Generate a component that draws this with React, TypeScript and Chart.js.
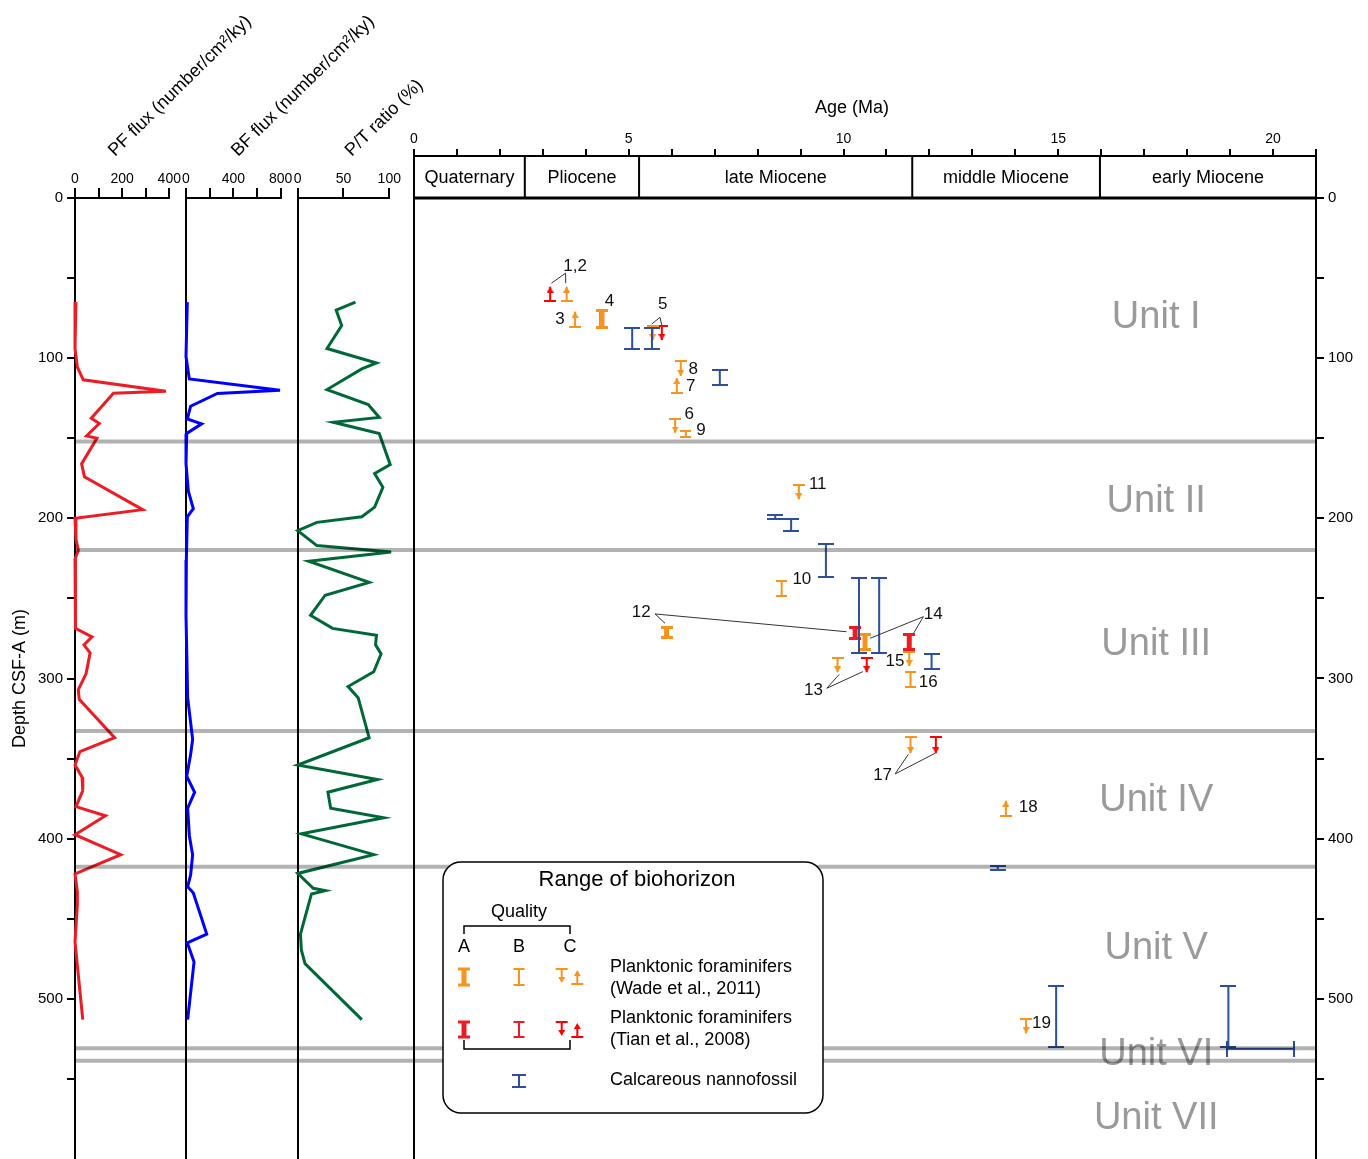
import React, { useEffect, useRef } from "react";
import { Chart, registerables } from "chart.js";

Chart.register(...registerables);

const W = 1368;
const H = 1159;
const FONT = "'Liberation Sans', Arial, Helvetica, sans-serif";

// ---------------- data ----------------
const depthTicks = [0, 50, 100, 150, 200, 250, 300, 350, 400, 450, 500, 550];
const depthLabels = [0, 100, 200, 300, 400, 500];

// PF flux (number/cm2/ky) vs depth (m)
const pfDepth = [65, 94, 105.6, 113.5, 120.6, 121.9, 137.5, 140.8, 148.5, 150, 166, 174, 194.6, 200, 213, 220, 225.6, 261, 268.7, 274, 279, 284, 297, 307, 313, 337, 345.6, 354, 361.6, 370, 380, 385.7, 397.5, 410, 422, 433, 441, 464.5, 513];
const pfFlux = [4, 0, 10, 35, 386, 163, 69, 103, 49, 93, 28, 40, 287, 0, 4, 14, 0, 0, 4, 72, 38, 64, 47, 14, 18, 168, 21, 0, 30, 33, 4, 129, 0, 194, 0, 10, 10, 0, 33];

// BF flux (number/cm2/ky) vs depth (m)
const bfDepth = [65, 99, 113, 120, 122, 130, 138, 141, 147, 166, 183, 194, 199, 226, 261, 312, 338, 347.5, 361, 371, 381, 398, 410, 422.7, 430, 434, 459.6, 465, 477, 513];
const bfFlux = [11, 0, 28, 794, 265, 39, 11, 132, 6, 0, 20, 62, 11, 3, 0, 14, 56, 39, 6, 73, 14, 28, 56, 39, 14, 62, 175, 11, 68, 14];

// P/T ratio (%) vs depth (m)
const ptDepth = [65, 70, 79.6, 94, 103, 106.7, 119.6, 129, 137, 140, 147, 166.5, 172, 180.6, 193, 199, 202.5, 207.7, 217, 221, 226.8, 240, 248, 260.6, 268.7, 273, 279, 284.7, 295.8, 305, 312, 337, 354, 363, 371, 381, 387, 397, 410, 421.7, 431, 432.5, 434.5, 459.6, 469.5, 478, 513];
const ptRatio = [63, 42, 48, 32, 86, 70, 32, 77, 89, 39, 89, 101, 84, 93, 84, 70, 21, 0, 21, 102, 12, 78, 30, 14, 38, 86, 85, 91, 83, 55, 66, 78, 0, 87, 33, 36, 94, 4, 83, 0, 17, 30, 15, 3, 4, 8, 70];

// Age axis
const ageTicks = [0, 1, 2, 3, 4, 5, 6, 7, 8, 9, 10, 11, 12, 13, 14, 15, 16, 17, 18, 19, 20, 21];
const ageLabels = [0, 5, 10, 15, 20];
const epochNames = ["Quaternary", "Pliocene", "late Miocene", "middle Miocene", "early Miocene"];
const epochBounds = [0, 2.58, 5.24, 11.6, 15.97, 21];

// Lithologic units
const unitNames = ["Unit I", "Unit II", "Unit III", "Unit IV", "Unit V", "Unit VI", "Unit VII"];
const unitLabelDepth = [74.6, 189.5, 278.8, 376.2, 468.6, 534.7, 574.7];
const unitLabelAge = 17.28;
const unitBounds = [152, 219.8, 332.8, 417.5, 530.8, 538.6];

// Planktonic foraminifers (Wade et al., 2011): [age, top depth, bottom depth]
const wadeRangeA: number[][] = [[4.37, 70.4, 80.7], [5.88, 268.3, 274.5], [10.5, 272.8, 281.6]];
const wadeRangeB: number[][] = [[6.33, 145.3, 149.1], [8.56, 238.9, 248.5], [11.56, 295.7, 305.5]];
// arrows: [age, cap depth, tip depth]
const wadeArrows: number[][] = [
  [3.555, 64.1, 55.4], [3.75, 80.4, 71.0], [5.56, 79.9, 88.7], [6.21, 101.6, 111.1],
  [6.12, 121.6, 112.4], [6.08, 138, 146.5], [8.96, 179.2, 188.1], [11.53, 283.3, 292.2],
  [9.86, 287, 296.1], [11.56, 336.7, 346.7], [13.78, 385.8, 376.3], [14.25, 512.8, 521.5],
];
// Planktonic foraminifers (Tian et al., 2008)
const tianRangeA: number[][] = [[4.37, 70.4, 80.7], [10.27, 268.3, 274.9], [11.53, 272.8, 281.6]];
const tianArrows: number[][] = [[3.17, 64.1, 55.4], [5.77, 79.9, 88.7], [10.54, 287, 296.1], [12.15, 336.7, 346.7]];
// Calcareous nannofossils: [age, top, bottom]
const nannoRange: number[][] = [
  [5.08, 81.4, 94.3], [5.54, 81.4, 94.3], [7.12, 107.4, 116.6], [8.41, 198.1, 200.2],
  [8.78, 200.6, 207.7], [9.59, 216, 236.4], [10.36, 237.1, 283.9], [10.83, 237.1, 283.9],
  [12.05, 284.7, 294.1], [13.59, 416.9, 419.5], [14.95, 491.8, 529.9], [18.96, 491.8, 529.9],
];
// age range at one depth: [depth, age from, age to]
const nannoAgeRange: number[][] = [[531.1, 18.92, 20.49]];

// Biohorizon numbers: [text, age, depth]
const horizonLabels: [string, number, number][] = [
  ["1,2", 3.75, 42.4], ["3", 3.4, 75.7], ["4", 4.55, 64.7], ["5", 5.79, 66.2],
  ["8", 6.5, 106.9], ["7", 6.44, 117.8], ["6", 6.41, 134.8], ["9", 6.68, 144.8],
  ["11", 9.4, 178.5], ["10", 9.03, 238.0], ["12", 5.29, 258.4], ["14", 12.09, 259.7],
  ["15", 11.2, 289.0], ["16", 11.97, 302.6], ["13", 9.3, 307.1], ["17", 10.91, 360.2],
  ["18", 14.3, 380.3], ["19", 14.61, 515.2],
];
// leader lines: [age1, depth1, age2, depth2]
const leaderLines: number[][] = [
  [3.531, 46.9, 3.198, 53.2], [3.531, 46.9, 3.531, 53.2],
  [5.728, 74.5, 5.534, 78.7], [5.728, 74.5, 5.767, 79.3],
  [5.611, 259.7, 5.844, 265.5], [5.611, 259.7, 10.07, 270.8],
  [11.86, 261.4, 10.62, 274.9], [11.86, 261.4, 11.63, 271.8],
  [9.61, 306.1, 9.9, 297.4], [9.61, 306.1, 10.45, 295.7],
  [11.2, 359.6, 11.51, 347.3], [11.2, 359.6, 12.13, 346.7],
];

// ---------------- styles / layout ----------------
const ORANGE = "#f7941d";
const RED = "#ed1c24";
const RED_ARROW = "#ff0000";
const BLUE = "#2d4f9e";
const PANEL_LEFT = 75;
const MAIN_LEFT = 414;
const MAIN_RIGHT = 1316;
const PLOT_TOP = 198;
const BAND_TOP = 156;
const DEPTH_MAX = 600;
const BAND_MIN = -((PLOT_TOP - BAND_TOP) / ((H - PLOT_TOP) / DEPTH_MAX));

function noPad(s: any) {
  s.paddingTop = 0;
  s.paddingBottom = 0;
  s.paddingLeft = 0;
  s.paddingRight = 0;
}

function capImage(color: string, w: number, t: number) {
  const c = document.createElement("canvas");
  c.width = w;
  c.height = t;
  const g = c.getContext("2d")!;
  g.fillStyle = color;
  g.fillRect(0, 0, w, t);
  return c;
}
function headImage(color: string, w: number, h: number) {
  const c = document.createElement("canvas");
  c.width = w;
  c.height = h * 2;
  const g = c.getContext("2d")!;
  g.fillStyle = color;
  g.beginPath();
  g.moveTo(0, 0);
  g.lineTo(w, 0);
  g.lineTo(w / 2, h);
  g.closePath();
  g.fill();
  return c;
}

function glyphRange(ctx: CanvasRenderingContext2D, cx: number, y1: number, y2: number, color: string, stemW: number, capW: number, capT: number) {
  ctx.fillStyle = color;
  ctx.fillRect(cx - stemW / 2, y1, stemW, y2 - y1);
  ctx.fillRect(cx - capW / 2, y1 - capT / 2, capW, capT);
  ctx.fillRect(cx - capW / 2, y2 - capT / 2, capW, capT);
}
function glyphArrow(ctx: CanvasRenderingContext2D, cx: number, capY: number, tipY: number, color: string) {
  const dir = tipY > capY ? 1 : -1;
  const hh = 6, hw = 7;
  const baseY = tipY - dir * hh;
  ctx.fillStyle = color;
  ctx.fillRect(cx - 1, Math.min(capY, baseY), 2, Math.abs(baseY - capY));
  ctx.fillRect(cx - 6, capY - 1, 12, 2);
  ctx.beginPath();
  ctx.moveTo(cx - hw / 2, baseY);
  ctx.lineTo(cx + hw / 2, baseY);
  ctx.lineTo(cx, tipY);
  ctx.closePath();
  ctx.fill();
}

function drawLegend(ctx: CanvasRenderingContext2D, bx: number, by: number) {
  ctx.save();
  const w = 380, h = 251, r = 18;
  ctx.beginPath();
  ctx.moveTo(bx + r, by);
  ctx.arcTo(bx + w, by, bx + w, by + h, r);
  ctx.arcTo(bx + w, by + h, bx, by + h, r);
  ctx.arcTo(bx, by + h, bx, by, r);
  ctx.arcTo(bx, by, bx + w, by, r);
  ctx.closePath();
  ctx.fillStyle = "#fff";
  ctx.fill();
  ctx.lineWidth = 1.5;
  ctx.strokeStyle = "#000";
  ctx.stroke();

  ctx.fillStyle = "#000";
  ctx.textBaseline = "middle";
  ctx.textAlign = "center";
  ctx.font = `22px ${FONT}`;
  ctx.fillText("Range of biohorizon", bx + 194, by + 18);
  ctx.font = `18px ${FONT}`;
  ctx.fillText("Quality", bx + 76, by + 50);
  ctx.fillText("A", bx + 21, by + 85);
  ctx.fillText("B", bx + 76, by + 85);
  ctx.fillText("C", bx + 127, by + 85);

  ctx.lineWidth = 1.5;
  ctx.beginPath();
  ctx.moveTo(bx + 21, by + 72);
  ctx.lineTo(bx + 21, by + 64);
  ctx.lineTo(bx + 127, by + 64);
  ctx.lineTo(bx + 127, by + 72);
  ctx.moveTo(bx + 21, by + 178);
  ctx.lineTo(bx + 21, by + 187);
  ctx.lineTo(bx + 127, by + 187);
  ctx.lineTo(bx + 127, by + 178);
  ctx.stroke();

  glyphRange(ctx, bx + 21, by + 107, by + 123, ORANGE, 5, 12, 3);
  glyphRange(ctx, bx + 76, by + 107, by + 123, ORANGE, 2, 11, 2);
  glyphArrow(ctx, bx + 118.7, by + 107, by + 121, ORANGE);
  glyphArrow(ctx, bx + 134.3, by + 122, by + 108, ORANGE);

  glyphRange(ctx, bx + 21, by + 160, by + 175, RED, 5, 12, 3);
  glyphRange(ctx, bx + 76, by + 160, by + 175, RED, 2, 11, 2);
  glyphArrow(ctx, bx + 118.7, by + 160, by + 174, RED_ARROW);
  glyphArrow(ctx, bx + 134.3, by + 175, by + 161, RED_ARROW);

  glyphRange(ctx, bx + 76, by + 213, by + 225, BLUE, 2, 14, 2);

  ctx.fillStyle = "#000";
  ctx.textAlign = "left";
  ctx.font = `18px ${FONT}`;
  ctx.fillText("Planktonic foraminifers", bx + 167, by + 105);
  ctx.fillText("(Wade et al., 2011)", bx + 167, by + 127);
  ctx.fillText("Planktonic foraminifers", bx + 167, by + 156);
  ctx.fillText("(Tian et al., 2008)", bx + 167, by + 178);
  ctx.fillText("Calcareous nannofossil", bx + 167, by + 218);
  ctx.restore();
}

const mainPlugin = {
  id: "mainDecor",
  beforeDatasetsDraw(chart: any) {
    const { ctx, scales } = chart;
    const x = scales.x, y = scales.y;
    ctx.save();
    ctx.font = `38px ${FONT}`;
    ctx.fillStyle = "#9a9a9a";
    ctx.textAlign = "center";
    ctx.textBaseline = "middle";
    unitNames.forEach((n, i) => ctx.fillText(n, x.getPixelForValue(unitLabelAge), y.getPixelForValue(unitLabelDepth[i])));
    ctx.restore();
  },
  afterDatasetsDraw(chart: any) {
    const { ctx, chartArea, scales } = chart;
    const x = scales.x, y = scales.y;
    ctx.save();
    // epoch band
    const y0 = y.getPixelForValue(0);
    ctx.strokeStyle = "#000";
    ctx.lineWidth = 2;
    ctx.beginPath();
    for (let i = 1; i < epochBounds.length - 1; i++) {
      const px = x.getPixelForValue(epochBounds[i]);
      ctx.moveTo(px, chartArea.top);
      ctx.lineTo(px, y0);
    }
    ctx.stroke();
    ctx.lineWidth = 3;
    ctx.beginPath();
    ctx.moveTo(chartArea.left - 1, y0);
    ctx.lineTo(chartArea.right + 1, y0);
    ctx.stroke();
    ctx.fillStyle = "#000";
    ctx.font = `18px ${FONT}`;
    ctx.textAlign = "center";
    ctx.textBaseline = "middle";
    for (let i = 0; i < epochNames.length; i++) {
      const a = x.getPixelForValue(epochBounds[i]);
      const b = x.getPixelForValue(epochBounds[i + 1]);
      ctx.fillText(epochNames[i], (a + b) / 2, (chartArea.top + y0) / 2 + 1);
    }
    // axis title
    ctx.fillText("Age (Ma)", (chartArea.left + chartArea.right) / 2 - 13, 108);

    // leader lines
    ctx.strokeStyle = "#333";
    ctx.lineWidth = 1;
    ctx.beginPath();
    for (const [a1, d1, a2, d2] of leaderLines) {
      ctx.moveTo(x.getPixelForValue(a1), y.getPixelForValue(d1));
      ctx.lineTo(x.getPixelForValue(a2), y.getPixelForValue(d2));
    }
    ctx.stroke();
    // numbers
    ctx.fillStyle = "#111";
    ctx.font = `17px ${FONT}`;
    for (const [t, a, d] of horizonLabels) ctx.fillText(t, x.getPixelForValue(a), y.getPixelForValue(d));

    // unit boundaries (semi-transparent, over everything)
    ctx.strokeStyle = "rgba(0,0,0,0.3)";
    ctx.lineWidth = 4;
    for (const d of unitBounds) {
      const py = y.getPixelForValue(d);
      ctx.beginPath();
      ctx.moveTo(PANEL_LEFT, py);
      ctx.lineTo(chartArea.right, py);
      ctx.stroke();
    }
    ctx.restore();
    drawLegend(ctx, chartArea.left + 29, chartArea.bottom - 297);
  },
};

function titlePlugin(title: string, dx: number) {
  return {
    id: "panelTitle",
    afterDraw(chart: any) {
      const { ctx, chartArea } = chart;
      ctx.save();
      ctx.translate(chartArea.left + dx, 157);
      ctx.rotate((-44.5 * Math.PI) / 180);
      ctx.font = `18px ${FONT}`;
      ctx.fillStyle = "#000";
      ctx.textAlign = "left";
      ctx.textBaseline = "alphabetic";
      ctx.fillText(title, 0, 0);
      ctx.restore();
    },
  };
}

type PanelSpec = {
  left: number;
  right: number;
  xMax: number;
  xTicks: number[];
  xLabels: number[];
  depths: number[];
  values: number[];
  color: string;
  title: string;
  titleDx: number;
  depthAxis: boolean;
};

function panelChart(canvas: HTMLCanvasElement, p: PanelSpec) {
  return new Chart(canvas, {
    type: "scatter",
    data: {
      datasets: [
        {
          data: p.depths.map((d, i) => ({ x: p.values[i], y: d })),
          showLine: true,
          borderColor: p.color,
          borderWidth: 3,
          pointRadius: 0,
          borderJoinStyle: "miter",
          clip: false as any,
          tension: 0,
        } as any,
      ],
    },
    options: {
      animation: false,
      responsive: false,
      devicePixelRatio: 1,
      events: [],
      layout: { autoPadding: false, padding: { left: p.depthAxis ? 0 : p.left, right: W - p.right, top: 0, bottom: 0 } },
      plugins: { legend: { display: false }, tooltip: { enabled: false } },
      scales: {
        x: {
          type: "linear",
          position: "top",
          min: 0,
          max: p.xMax,
          afterBuildTicks: (s: any) => {
            s.ticks = p.xTicks.map((v) => ({ value: v }));
          },
          afterFit: (s: any) => {
            s.height = PLOT_TOP;
            noPad(s);
          },
          ticks: {
            autoSkip: false,
            maxRotation: 0,
            padding: 0,
            color: "#000",
            font: { size: 14, family: FONT },
            callback: (v: any) => (p.xLabels.includes(v) ? String(v) : ""),
          },
          grid: { drawOnChartArea: false, tickLength: 10, color: "#000", lineWidth: 2 },
          border: { color: "#000", width: 2 },
        },
        y: {
          type: "linear",
          position: "left",
          reverse: true,
          min: 0,
          max: DEPTH_MAX,
          afterBuildTicks: (s: any) => {
            s.ticks = depthTicks.map((v) => ({ value: v }));
          },
          afterFit: (s: any) => {
            s.width = p.depthAxis ? p.left : 0;
            noPad(s);
          },
          ticks: {
            display: p.depthAxis,
            autoSkip: false,
            padding: 4,
            color: "#000",
            font: { size: 15, family: FONT },
            callback: (v: any) => (depthLabels.includes(v) ? String(v) : ""),
          },
          grid: { drawOnChartArea: false, drawTicks: p.depthAxis, tickLength: 8, color: "#000", lineWidth: 2 },
          border: { color: "#000", width: 2 },
          title: {
            display: p.depthAxis,
            text: "Depth CSF-A (m)",
            color: "#000",
            font: { size: 18, family: FONT },
            padding: { top: 9, bottom: 0 },
          },
        },
      },
    } as any,
    plugins: [titlePlugin(p.title, p.titleDx)],
  });
}

function buildMarkerDatasets() {
  const ds: any[] = [];
  const capA = { o: capImage(ORANGE, 12, 3), r: capImage(RED, 12, 3) };
  const capB = capImage(ORANGE, 11, 2);
  const capArrow = { o: capImage(ORANGE, 12, 2), r: capImage(RED_ARROW, 12, 2) };
  const head = { o: headImage(ORANGE, 7, 6), r: headImage(RED_ARROW, 7, 6) };
  const capN = capImage(BLUE, 16, 2);
  const common = { showLine: true, pointRadius: 3, clip: false, borderCapStyle: "butt", tension: 0 };

  const range = (a: number, t: number, b: number, color: string, sw: number, cap: HTMLCanvasElement) =>
    ds.push({ ...common, data: [{ x: a, y: t }, { x: a, y: b }], borderColor: color, borderWidth: sw, pointStyle: cap, pointRotation: 0 });
  const arrow = (a: number, c: number, t: number, color: string, cap: HTMLCanvasElement, hd: HTMLCanvasElement) =>
    ds.push({ ...common, data: [{ x: a, y: c }, { x: a, y: t }], borderColor: color, borderWidth: 2, pointStyle: [cap, hd], pointRotation: [0, t > c ? 0 : 180] });

  nannoRange.forEach(([a, t, b]) => range(a, t, b, BLUE, 2, capN));
  nannoAgeRange.forEach(([d, a1, a2]) =>
    ds.push({ ...common, data: [{ x: a1, y: d }, { x: a2, y: d }], borderColor: BLUE, borderWidth: 2, pointStyle: capN, pointRotation: 90 })
  );
  wadeRangeA.forEach(([a, t, b]) => range(a, t, b, ORANGE, 5, capA.o));
  wadeRangeB.forEach(([a, t, b]) => range(a, t, b, ORANGE, 2, capB));
  wadeArrows.forEach(([a, c, t]) => arrow(a, c, t, ORANGE, capArrow.o, head.o));
  tianRangeA.forEach(([a, t, b]) => range(a, t, b, RED, 5, capA.r));
  tianArrows.forEach(([a, c, t]) => arrow(a, c, t, RED_ARROW, capArrow.r, head.r));
  return ds;
}

function mainChart(canvas: HTMLCanvasElement) {
  return new Chart(canvas, {
    type: "scatter",
    data: { datasets: buildMarkerDatasets() },
    options: {
      animation: false,
      responsive: false,
      devicePixelRatio: 1,
      events: [],
      layout: { autoPadding: false, padding: { left: MAIN_LEFT, right: 0, top: 0, bottom: 0 } },
      plugins: { legend: { display: false }, tooltip: { enabled: false } },
      scales: {
        x: {
          type: "linear",
          position: "top",
          min: 0,
          max: 21,
          afterBuildTicks: (s: any) => {
            s.ticks = ageTicks.map((v) => ({ value: v }));
          },
          afterFit: (s: any) => {
            s.height = BAND_TOP;
            noPad(s);
          },
          ticks: {
            autoSkip: false,
            maxRotation: 0,
            padding: 1,
            color: "#000",
            font: { size: 14, family: FONT },
            callback: (v: any) => (ageLabels.includes(v) ? String(v) : ""),
          },
          grid: { drawOnChartArea: false, tickLength: 7, color: "#000", lineWidth: 2 },
          border: { color: "#000", width: 2 },
        },
        y: {
          type: "linear",
          position: "right",
          reverse: true,
          min: BAND_MIN,
          max: DEPTH_MAX,
          afterBuildTicks: (s: any) => {
            s.ticks = depthTicks.map((v) => ({ value: v }));
          },
          afterFit: (s: any) => {
            s.width = W - MAIN_RIGHT;
            noPad(s);
          },
          ticks: {
            autoSkip: false,
            padding: 4,
            color: "#000",
            font: { size: 15, family: FONT },
            callback: (v: any) => (depthLabels.includes(v) ? String(v) : ""),
          },
          grid: { drawOnChartArea: false, tickLength: 8, color: "#000", lineWidth: 2 },
          border: { color: "#000", width: 2 },
        },
        yl: {
          type: "linear",
          axis: "y",
          position: "left",
          reverse: true,
          min: BAND_MIN,
          max: DEPTH_MAX,
          afterFit: (s: any) => {
            s.width = 0;
            noPad(s);
          },
          ticks: { display: false },
          grid: { drawOnChartArea: false, drawTicks: false },
          border: { color: "#000", width: 2 },
        },
      },
    } as any,
    plugins: [mainPlugin],
  });
}

export default function App() {
  const pfRef = useRef<HTMLCanvasElement>(null);
  const bfRef = useRef<HTMLCanvasElement>(null);
  const ptRef = useRef<HTMLCanvasElement>(null);
  const mainRef = useRef<HTMLCanvasElement>(null);

  useEffect(() => {
    Chart.defaults.font.family = FONT;
    Chart.defaults.color = "#000";
    const charts = [
      panelChart(pfRef.current!, {
        left: PANEL_LEFT, right: 169.3, xMax: 400, xTicks: [0, 100, 200, 300, 400], xLabels: [0, 200, 400],
        depths: pfDepth, values: pfFlux, color: "#ed1c24", title: "PF flux (number/cm²/ky)", titleDx: 40, depthAxis: true,
      }),
      panelChart(bfRef.current!, {
        left: 186, right: 280.7, xMax: 800, xTicks: [0, 200, 400, 600, 800], xLabels: [0, 400, 800],
        depths: bfDepth, values: bfFlux, color: "#0000ff", title: "BF flux (number/cm²/ky)", titleDx: 52, depthAxis: false,
      }),
      panelChart(ptRef.current!, {
        left: 297.7, right: 389.3, xMax: 100, xTicks: [0, 50, 100], xLabels: [0, 50, 100],
        depths: ptDepth, values: ptRatio, color: "#006837", title: "P/T ratio (%)", titleDx: 54, depthAxis: false,
      }),
      mainChart(mainRef.current!),
    ];
    return () => charts.forEach((c) => c.destroy());
  }, []);

  const cs: React.CSSProperties = { position: "absolute", left: 0, top: 0, width: W, height: H };
  return (
    <div style={{ position: "absolute", left: 0, top: 0, width: W, height: H, overflow: "hidden", background: "#fff" }}>
      <canvas ref={pfRef} width={W} height={H} style={cs} />
      <canvas ref={bfRef} width={W} height={H} style={cs} />
      <canvas ref={ptRef} width={W} height={H} style={cs} />
      <canvas ref={mainRef} width={W} height={H} style={cs} />
    </div>
  );
}
